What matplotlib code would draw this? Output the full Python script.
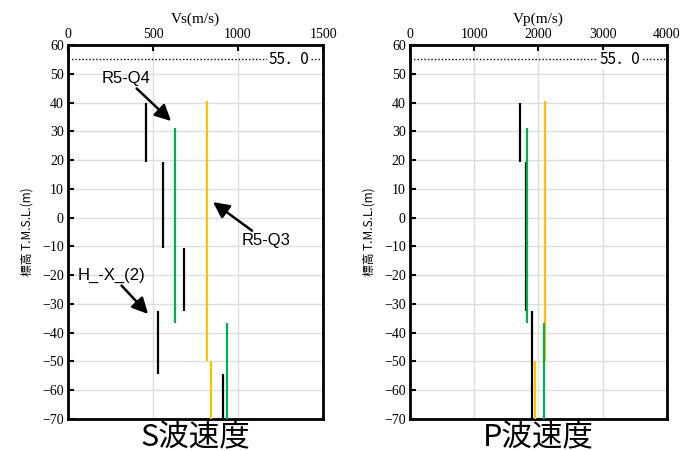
import matplotlib
matplotlib.use("Agg")
import matplotlib.pyplot as plt

# layers per borehole: top / bottom elevation (m) and velocities (m/s)
black_top = [40.0, 19.5, -10.5, -32.5, -54.5]
black_bot = [19.5, -10.5, -32.5, -54.5, -70.0]
black_vs = [460, 560, 680, 530, 910]
black_vp = [1710, 1800, 1800, 1900, 1900]

green_top = [31.3, -36.7]
green_bot = [-36.7, -70.0]
green_vs = [630, 935]
green_vp = [1815, 2085]

orange_top = [40.5, -49.7]
orange_bot = [-49.7, -70.0]
orange_vs = [815, 840]
orange_vp = [2095, 1940]

ground_level = 55.0
yticks = list(range(-70, 61, 10))

serif = ["Liberation Serif", "DejaVu Serif"]
cjk = ["Noto Sans CJK JP", "DejaVu Sans"]
sans = ["Liberation Sans", "DejaVu Sans"]

fig = plt.figure(figsize=(6.82, 4.51), dpi=100)
ax1 = fig.add_axes([0.0997, 0.071, 0.374, 0.829])
ax2 = fig.add_axes([0.601, 0.071, 0.377, 0.829])


def setup(ax, xmax, xstep, xlabel, title, label_x):
    ax.set_xlim(0, xmax)
    ax.set_ylim(-70, 60)
    ax.set_xticks(range(0, xmax + 1, xstep))
    ax.set_yticks(yticks)
    ax.xaxis.tick_top()
    ax.xaxis.set_label_position("top")
    ax.set_xlabel(xlabel, family=serif, fontsize=11, labelpad=4)
    ax.set_ylabel("標高 T.M.S.L.(m)", family=cjk, fontsize=8.5, labelpad=6)
    ax.tick_params(direction="in", length=4, width=1.5, labelsize=10, pad=3)
    for lab in ax.get_xticklabels() + ax.get_yticklabels():
        lab.set_family(serif)
    ax.grid(True, color="#dddddd", lw=1)
    ax.set_axisbelow(True)
    for s in ax.spines.values():
        s.set_linewidth(2)
    ax.axhline(ground_level, color="black", ls=(0, (1, 1.5)), lw=1)
    ax.text(label_x, ground_level, "55．0", family=cjk, fontsize=11,
            ha="center", va="center",
            bbox=dict(facecolor="white", edgecolor="none", pad=1))
    ax.text(0.5, -0.005, title, transform=ax.transAxes, family=cjk,
            fontsize=22, ha="center", va="top")


setup(ax1, 1500, 500, "Vs(m/s)", "S波速度", 1300)
setup(ax2, 4000, 1000, "Vp(m/s)", "P波速度", 3270)

for ax, bv, gv, ov in [(ax1, black_vs, green_vs, orange_vs),
                       (ax2, black_vp, green_vp, orange_vp)]:
    ax.vlines(bv, black_bot, black_top, color="black", lw=1.6, zorder=3)
    ax.vlines(ov, orange_bot, orange_top, color="#FFC000", lw=1.6, zorder=3)
    ax.vlines(gv, green_bot, green_top, color="#00B050", lw=1.6, zorder=3)

arrow = dict(arrowstyle="-|>", color="black", lw=1.8, mutation_scale=24,
             shrinkA=0, shrinkB=0)
ax1.annotate("R5-Q4", xy=(606, 33.6), xytext=(340, 48.5), family=sans,
             fontsize=12, ha="center", va="center", arrowprops=arrow)
ax1.annotate("R5-Q3", xy=(853, 5.4), xytext=(1165, -8.1), family=sans,
             fontsize=12, ha="center", va="center", arrowprops=arrow)
ax1.annotate("H_-X_(2)", xy=(471, -33.5), xytext=(258, -20), family=sans,
             fontsize=12, ha="center", va="center", arrowprops=arrow)

fig.savefig("out.png", dpi=100)
